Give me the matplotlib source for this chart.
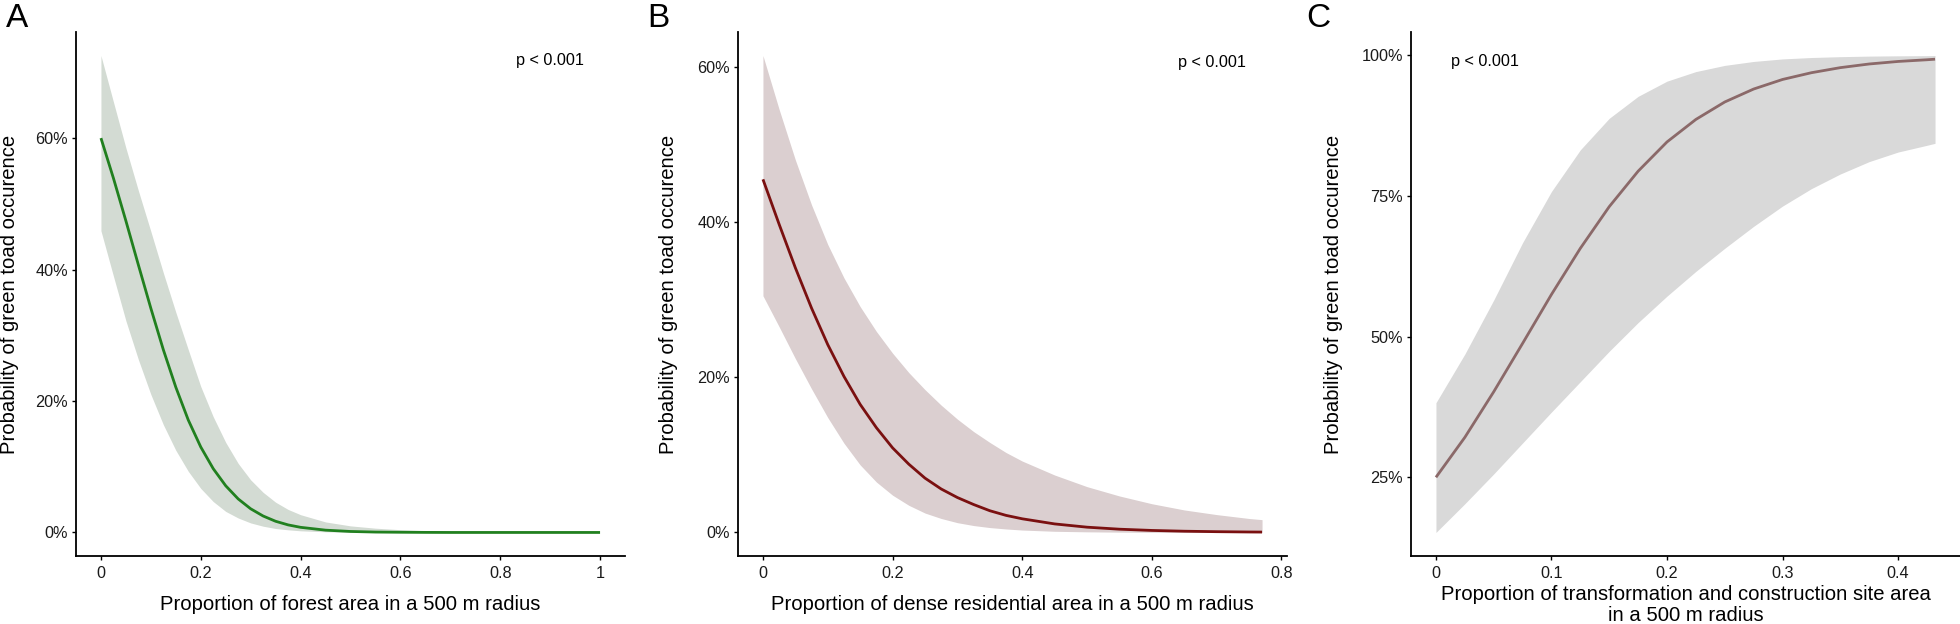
import matplotlib
matplotlib.use("Agg")
import matplotlib.pyplot as plt

plt.rcParams['font.family'] = ['Liberation Sans', 'DejaVu Sans']

# ---------------- data ----------------
# Panel A: forest
xA = [0, 0.025, 0.05, 0.075, 0.1, 0.125, 0.15, 0.175, 0.2, 0.225, 0.25, 0.275, 0.3,
      0.325, 0.35, 0.375, 0.4, 0.45, 0.5, 0.55, 0.6, 0.65, 0.7, 0.75, 0.8, 0.85,
      0.9, 0.95, 1.0]
fitA = [0.600, 0.539, 0.474, 0.407, 0.341, 0.278, 0.221, 0.171, 0.130, 0.097, 0.071,
        0.051, 0.036, 0.025, 0.017, 0.0115, 0.0078, 0.0035, 0.0015, 0.0006, 0.0003,
        0.0001, 0, 0, 0, 0, 0, 0, 0]
upA = [0.7256, 0.655, 0.585, 0.520, 0.458, 0.395, 0.335, 0.278, 0.222, 0.176, 0.137,
       0.105, 0.080, 0.061, 0.046, 0.035, 0.027, 0.016, 0.010, 0.0065, 0.0042, 0.0027,
       0.0017, 0.0010, 0.0006, 0.0003, 0.0002, 0.0001, 0.0]
lowA = [0.459, 0.390, 0.322, 0.263, 0.210, 0.164, 0.125, 0.093, 0.067, 0.047, 0.032,
        0.022, 0.0145, 0.0095, 0.006, 0.004, 0.0025, 0.001, 0.0004, 0.0002, 0.0001,
        0, 0, 0, 0, 0, 0, 0, 0]

# Panel B: dense residential
xB = [0, 0.025, 0.05, 0.075, 0.1, 0.125, 0.15, 0.175, 0.2, 0.225, 0.25, 0.275, 0.3,
      0.325, 0.35, 0.375, 0.4, 0.45, 0.5, 0.55, 0.6, 0.65, 0.7, 0.75, 0.77]
fitB = [0.455, 0.397, 0.341, 0.289, 0.242, 0.201, 0.165, 0.135, 0.109, 0.088, 0.070,
        0.056, 0.045, 0.036, 0.028, 0.022, 0.0176, 0.011, 0.0068, 0.0042, 0.0026,
        0.0016, 0.0010, 0.0006, 0.0005]
upB = [0.6145, 0.545, 0.480, 0.422, 0.371, 0.328, 0.291, 0.259, 0.231, 0.206, 0.184,
       0.164, 0.146, 0.130, 0.116, 0.103, 0.092, 0.074, 0.059, 0.047, 0.037, 0.029,
       0.023, 0.018, 0.0165]
lowB = [0.305, 0.265, 0.224, 0.185, 0.148, 0.115, 0.087, 0.065, 0.048, 0.035, 0.025,
        0.018, 0.0126, 0.0089, 0.0063, 0.0045, 0.0031, 0.0015, 0.0008, 0.0004, 0.0002,
        0.0001, 0.0, 0.0, 0.0]

# Panel C: transformation / construction sites
xC = [0, 0.025, 0.05, 0.075, 0.1, 0.125, 0.15, 0.175, 0.2, 0.225, 0.25, 0.275, 0.3,
      0.325, 0.35, 0.375, 0.4, 0.425, 0.432]
fitC = [0.250, 0.321, 0.402, 0.488, 0.575, 0.657, 0.731, 0.794, 0.846, 0.886, 0.917,
        0.940, 0.957, 0.969, 0.978, 0.9845, 0.989, 0.992, 0.993]
upC = [0.3825, 0.469, 0.565, 0.667, 0.758, 0.832, 0.888, 0.927, 0.954, 0.971, 0.982,
       0.989, 0.9935, 0.996, 0.9975, 0.9985, 0.999, 0.9993, 0.9995]
lowC = [0.152, 0.203, 0.256, 0.311, 0.366, 0.420, 0.474, 0.525, 0.572, 0.616, 0.657,
        0.696, 0.732, 0.763, 0.789, 0.811, 0.828, 0.840, 0.8435]

xticksA = [0, 0.2, 0.4, 0.6, 0.8, 1.0]
xlabelsA = ["0", "0.2", "0.4", "0.6", "0.8", "1"]
xticksB = [0, 0.2, 0.4, 0.6, 0.8]
xlabelsB = ["0", "0.2", "0.4", "0.6", "0.8"]
xticksC = [0, 0.1, 0.2, 0.3, 0.4]
xlabelsC = ["0", "0.1", "0.2", "0.3", "0.4"]
yticksAB = [0, 0.2, 0.4, 0.6]
ylabelsAB = ["0%", "20%", "40%", "60%"]
yticksC = [0.25, 0.5, 0.75, 1.0]
ylabelsC = ["25%", "50%", "75%", "100%"]

ylab = "Probability of green toad occurence"
xlabA = "Proportion of forest area in a 500 m radius"
xlabB = "Proportion of dense residential area in a 500 m radius"
xlabC = "Proportion of transformation and construction site area\nin a 500 m radius"
ptext = "p < 0.001"

# ---------------- layout ----------------
W, H = 1960, 624
fig = plt.figure(figsize=(W / 100, H / 100), dpi=100)

TOP, BOT = 31.7, 556.3
TICK_FS = 11.7
TITLE_FS = 14.6


def make_ax(left, right):
    return fig.add_axes([left / W, 1 - BOT / H, (right - left) / W, (BOT - TOP) / H])


def expand(lo, hi, m=0.05):
    r = hi - lo
    return lo - m * r, hi + m * r


def panel(left, right, x, fit, lo, up, line_col, band_col, lw,
          xt, xtl, yt, ytl, xlab, ylab_x, xlab_y, ptxt_xy, letter, letter_x,
          ls=1.0):
    ax = make_ax(left, right)
    ax.fill_between(x, lo, up, color=band_col, lw=0, zorder=1)
    ax.plot(x, fit, color=line_col, lw=lw, solid_capstyle='butt',
            solid_joinstyle='round', zorder=2)
    ax.set_xlim(*expand(min(x), max(x)))
    ax.set_ylim(*expand(min(lo), max(up)))
    ax.set_xticks(xt)
    ax.set_xticklabels(xtl)
    ax.set_yticks(yt)
    ax.set_yticklabels(ytl)
    for s in ['top', 'right']:
        ax.spines[s].set_visible(False)
    for s in ['left', 'bottom']:
        ax.spines[s].set_linewidth(1.3)
        ax.spines[s].set_color('black')
    ax.tick_params(axis='both', direction='out', length=3.2, width=1.0,
                   color='black', labelsize=TICK_FS, labelcolor='#1a1a1a', pad=2.5)
    ax.tick_params(axis='x', pad=4)
    ax.text(ptxt_xy[0], ptxt_xy[1], ptext, ha='center', va='center',
            fontsize=TICK_FS, color='black')
    cx = (left + right) / 2
    fig.text(cx / W, 1 - xlab_y / H, xlab, ha='center', va='center',
             fontsize=TITLE_FS, color='black', linespacing=ls)
    fig.text(ylab_x / W, 1 - ((TOP + BOT) / 2) / H, ylab, ha='center', va='center',
             rotation=90, fontsize=TITLE_FS, color='black')
    fig.text(letter_x / W, 1 - 27 / H, letter, ha='left', va='baseline',
             fontsize=24, color='black')
    return ax


panel(76, 625, xA, fitA, lowA, upA, '#21801F', '#D3DBD3', 2.0,
      xticksA, xlabelsA, yticksAB, ylabelsAB, xlabA, 10, 605, (0.90, 0.718), 'A', 6)
panel(738, 1287, xB, fitB, lowB, upB, '#7A1010', '#DBCFD0', 2.0,
      xticksB, xlabelsB, yticksAB, ylabelsAB, xlabB, 668, 605, (0.692, 0.606), 'B', 647)
panel(1411, 1960, xC, fitC, lowC, upC, '#8B6969', '#D9D9D9', 2.0,
      xticksC, xlabelsC, yticksC, ylabelsC, xlabC, 1333, 605, (0.0426, 0.9885), 'C', 1306,
      ls=1.1)

fig.savefig('out.png', dpi=100, facecolor='white')
